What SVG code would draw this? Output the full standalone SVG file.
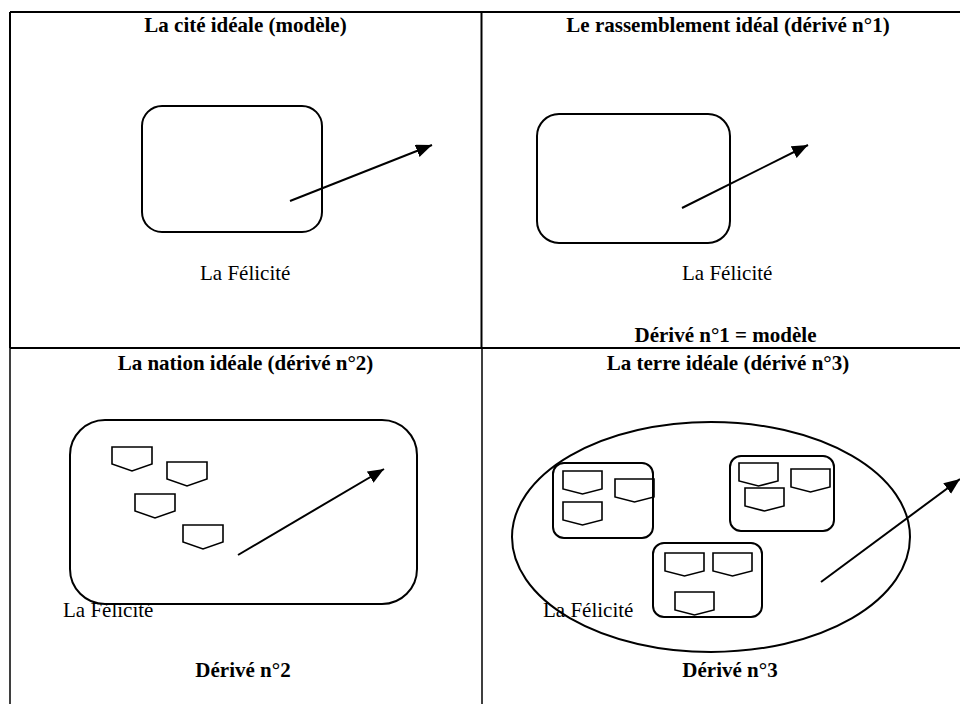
<svg xmlns="http://www.w3.org/2000/svg" width="960" height="704" viewBox="0 0 960 704">
<style>
.t{font-family:"Liberation Serif","Times New Roman",serif;font-size:21px;fill:#000}
.b{font-weight:bold;text-anchor:middle}
.grid{stroke:#000;fill:none}
.shape{fill:none;stroke:#000;stroke-width:2}
.pent{fill:none;stroke:#000;stroke-width:1.6}
.arrow{stroke:#000;stroke-width:2;fill:none;marker-end:url(#ah)}
</style>
<defs>
<marker id="ah" markerUnits="userSpaceOnUse" markerWidth="18" markerHeight="14" refX="16" refY="6.5" orient="auto">
<path d="M0,0 L16,6.5 L0,13 Z" fill="#000"/>
</marker>
<path id="p3" d="M0,0 H40 V17 L20,24 L0,17 Z"/>
<path id="p4" d="M0,0 H39 V18 L19.5,23 L0,18 Z"/>
</defs>
<rect width="960" height="704" fill="#fff"/>
<g id="table">
<path class="grid" stroke-width="2" d="M10,12 H960 M10,12 V348 M481.5,12 V348 M10,348 H960"/>
<path class="grid" stroke-width="1.5" d="M10,348 V704 M482,348 V704"/>
</g>
<g id="panel1">
<text class="t b" x="245.5" y="32">La cité idéale (modèle)</text>
<g id="felicite1"><rect class="shape" x="142" y="106" width="180" height="126" rx="20"/></g>
<text class="t" x="200" y="280">La Félicité</text>
</g>
<g id="panel2">
<text class="t b" x="728" y="32">Le rassemblement idéal (dérivé n°1)</text>
<g id="felicite2"><rect class="shape" x="537" y="114" width="193" height="129" rx="22"/></g>
<text class="t" x="682" y="280">La Félicité</text>
<text class="t b" x="725.5" y="342">Dérivé n°1 = modèle</text>
</g>
<g id="panel3">
<text class="t b" x="245.5" y="370">La nation idéale (dérivé n°2)</text>
<g id="felicite3"><rect class="shape" x="70" y="420" width="347" height="184" rx="35"/></g>
<g id="n3a"><use href="#p3" class="pent" x="112" y="447"/></g>
<g id="n3b"><use href="#p3" class="pent" x="167" y="462"/></g>
<g id="n3c"><use href="#p3" class="pent" x="135" y="494"/></g>
<g id="n3d"><use href="#p3" class="pent" x="183" y="525"/></g>
<text class="t" x="63" y="617">La Félicité</text>
<text class="t b" x="243" y="677">Dérivé n°2</text>
</g>
<g id="panel4">
<text class="t b" x="728" y="370">La terre idéale (dérivé n°3)</text>
<g id="terre"><ellipse class="shape" cx="711" cy="537" rx="199" ry="115"/></g>
<g id="boxA"><rect class="shape" x="553" y="463" width="100" height="75" rx="11"/>
<use href="#p4" class="pent" x="563" y="471"/>
<use href="#p4" class="pent" x="615" y="479"/>
<use href="#p4" class="pent" x="563" y="502"/></g>
<g id="boxB"><rect class="shape" x="730" y="456" width="104" height="75" rx="11"/>
<use href="#p4" class="pent" x="739" y="463"/>
<use href="#p4" class="pent" x="791" y="469"/>
<use href="#p4" class="pent" x="745" y="488"/></g>
<g id="boxC"><rect class="shape" x="653" y="543" width="109" height="74" rx="11"/>
<use href="#p4" class="pent" x="665" y="553"/>
<use href="#p4" class="pent" x="713" y="553"/>
<use href="#p4" class="pent" x="675" y="592"/></g>
<text class="t" x="543" y="617">La Félicité</text>
<text class="t b" x="730" y="677">Dérivé n°3</text>
</g>
<g id="connectors">
<line class="arrow" x1="290" y1="201" x2="432" y2="145"/>
<line class="arrow" x1="682" y1="208" x2="808" y2="145"/>
<line class="arrow" x1="238" y1="555" x2="384" y2="469"/>
<line class="arrow" x1="821" y1="582" x2="960" y2="479"/>
</g>
</svg>
